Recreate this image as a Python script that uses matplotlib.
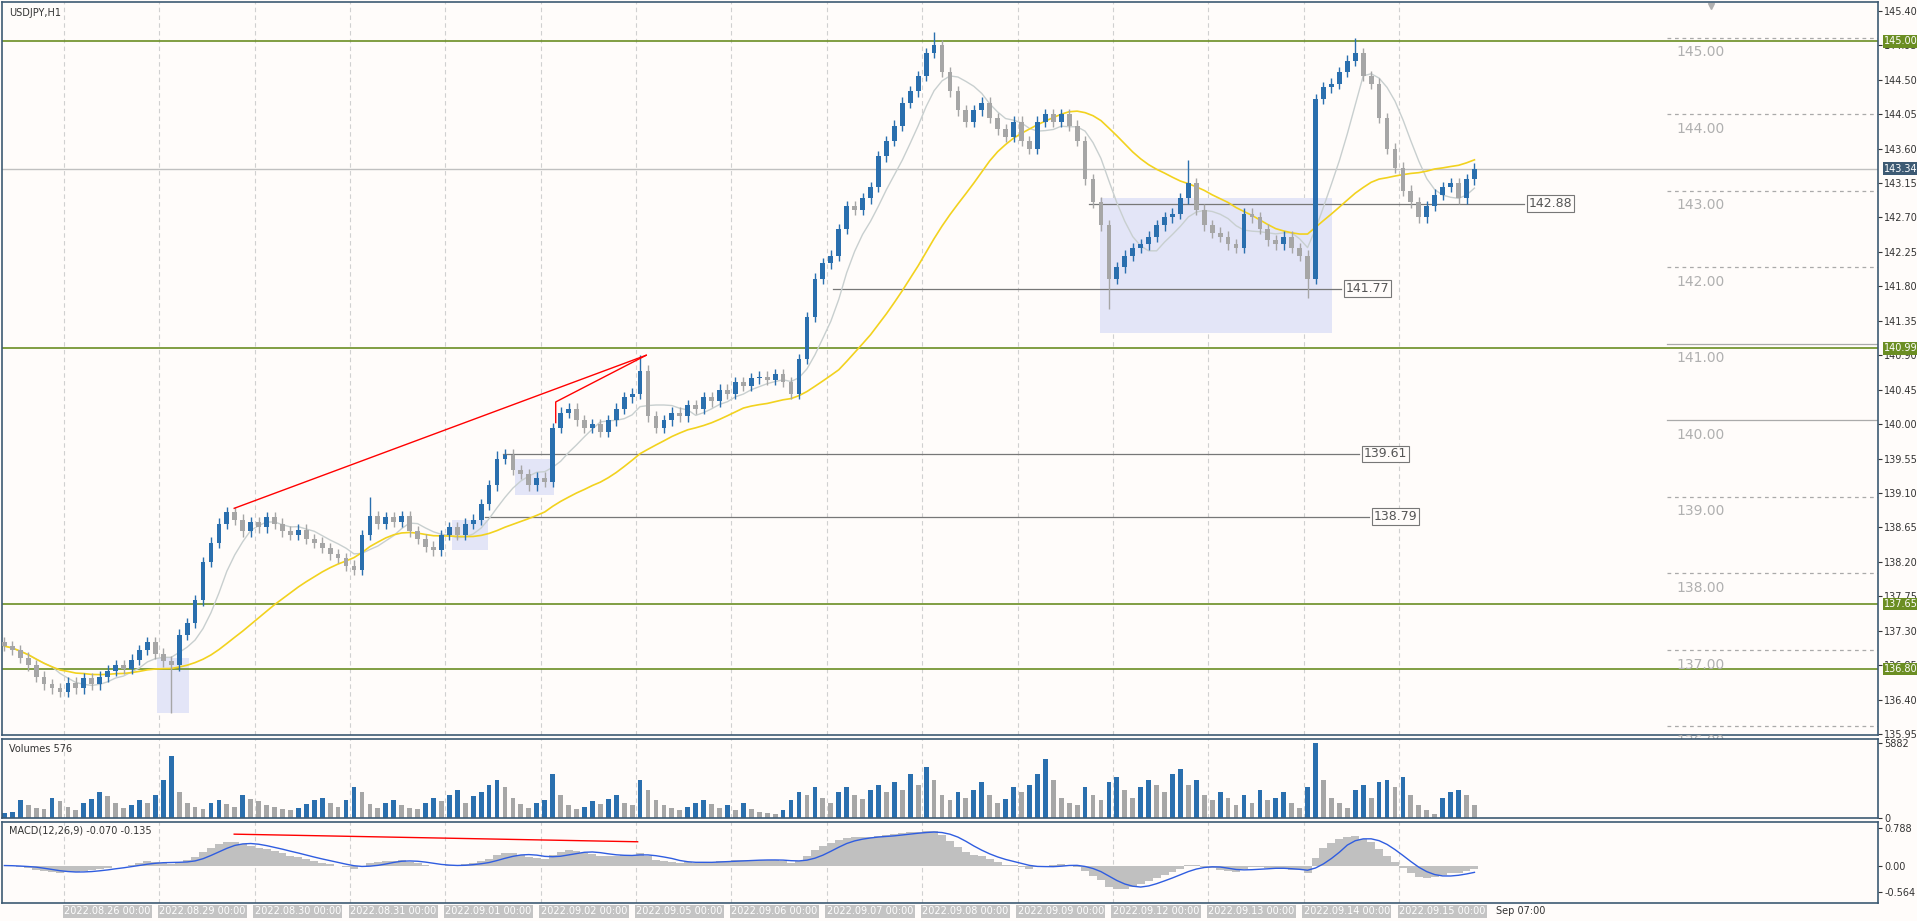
import numpy as np
import pandas as pd
import matplotlib
matplotlib.use("Agg")
import matplotlib.pyplot as plt
from matplotlib.patches import Rectangle
import matplotlib.transforms as mtransforms

# --- datos (barras de 2 horas, USDJPY) ---
closes = [
    137.10, 137.05, 136.95, 136.85, 136.70, 136.60, 136.55, 136.50,
    136.62, 136.55, 136.68, 136.60, 136.70, 136.78, 136.85, 136.80,
    136.92, 137.05, 137.15, 137.00, 136.90, 136.85, 137.25, 137.40,
    137.70, 138.20, 138.45, 138.70, 138.85, 138.75, 138.60, 138.72,
    138.65, 138.78, 138.70, 138.60, 138.55, 138.62, 138.50, 138.45,
    138.38, 138.30, 138.25, 138.15, 138.10, 138.55, 138.80, 138.70,
    138.78, 138.72, 138.80, 138.60, 138.50, 138.40, 138.35, 138.55,
    138.65, 138.55, 138.70, 138.75, 138.95, 139.20, 139.55, 139.60,
    139.40, 139.35, 139.20, 139.30, 139.25, 139.95, 140.15, 140.20,
    140.05, 139.95, 140.00, 139.90, 140.05, 140.20, 140.35, 140.40,
    140.70, 140.10, 139.95, 140.05, 140.15, 140.10, 140.25, 140.20,
    140.35, 140.30, 140.45, 140.40, 140.55, 140.50, 140.60, 140.62,
    140.58, 140.65, 140.55, 140.40, 140.85, 141.40, 141.90, 142.10,
    142.20, 142.55, 142.85, 142.80, 142.95, 143.10, 143.50, 143.70,
    143.90, 144.20, 144.35, 144.55, 144.85, 144.95, 144.60, 144.35,
    144.10, 143.95, 144.10, 144.20, 144.00, 143.85, 143.75, 143.95,
    143.70, 143.60, 143.95, 144.05, 143.95, 144.05, 143.90, 143.70,
    143.20, 142.90, 142.60, 141.90, 142.05, 142.20, 142.30, 142.35,
    142.45, 142.60, 142.70, 142.75, 142.95, 143.15, 142.80, 142.60,
    142.50, 142.45, 142.35, 142.30, 142.75, 142.70, 142.55, 142.40,
    142.35, 142.45, 142.30, 142.20, 141.90, 144.25, 144.40, 144.45,
    144.60, 144.75, 144.85, 144.55, 144.45, 144.00, 143.60, 143.35,
    143.05, 142.90, 142.70, 142.85, 143.00, 143.10, 143.15, 142.95,
    143.20, 143.34,
]
first_open = 137.15
# mechas destacadas: indice -> high / low
spikes_high = {46: 139.05, 62: 139.65, 80: 140.90, 117: 145.12, 149: 143.45, 170: 145.05}
spikes_low = {21: 136.23, 139: 141.50, 164: 141.65}

volumes_hundreds = [
    4, 5, 14, 10, 8, 7, 16, 13, 9, 6, 12, 15, 20, 17, 12, 8,
    10, 14, 12, 18, 30, 48, 20, 12,
    9, 7, 12, 14, 11, 9, 18, 15,
    13, 10, 9, 7, 6, 8, 11, 14,
    16, 12, 9, 14, 24, 20, 11, 8,
    12, 14, 10, 8, 7, 12, 16, 13,
    18, 22, 12, 17, 20, 26, 30, 24,
    16, 11, 8, 12, 14, 34, 18, 10,
    7, 9, 13, 11, 15, 18, 12, 10,
    30, 22, 14, 10, 8, 6, 9, 12,
    14, 11, 8, 10, 6, 12, 7, 5,
    4, 3, 6, 14, 20, 18, 24, 16,
    12, 20, 24, 18, 15, 22, 26, 20,
    28, 22, 34, 26, 40, 30, 18, 14,
    20, 16, 22, 28, 18, 12, 15, 24,
    20, 26, 34, 46, 30, 16, 12, 10,
    24, 18, 14, 28, 32, 22, 16, 24,
    30, 26, 20, 34, 38, 26, 30, 18,
    14, 20, 16, 10, 18, 12, 22, 14,
    16, 20, 12, 8, 24, 58, 30, 16,
    12, 8, 22, 26, 16, 28, 30, 24,
    32, 18, 10, 6, 3, 16, 20, 22,
    18, 10,
]

day_labels = ["2022.08.26 00:00", "2022.08.29 00:00", "2022.08.30 00:00", "2022.08.31 00:00",
              "2022.09.01 00:00", "2022.09.02 00:00", "2022.09.05 00:00", "2022.09.06 00:00",
              "2022.09.07 00:00", "2022.09.08 00:00", "2022.09.09 00:00", "2022.09.12 00:00",
              "2022.09.13 00:00", "2022.09.14 00:00", "2022.09.15 00:00"]
day_start_bar = 8  # 12 barras por dia

green_levels = [145.00, 140.99, 137.65, 136.80]
round_levels = [145.00, 144.00, 143.00, 142.00, 141.00, 140.00, 139.00, 138.00, 137.00, 136.00]
price_lines = [(889, 142.88, 1245), (680, 141.77, 1095), (410, 139.61, 1110), (395, 138.79, 1118)]
last_price = 143.34

# --- colores ---
BG = "#fffcfa"
UP = "#2a6fae"
DOWN = "#a6a6a6"
GREEN = "#6b8e23"
FRAME = "#3d5a73"
FS = 7

n = len(closes)
c = np.array(closes)
o = np.concatenate([[first_open], c[:-1]])
hi = np.maximum(o, c) + 0.07
lo = np.minimum(o, c) - 0.07
for k, v in spikes_high.items():
    hi[k] = v
for k, v in spikes_low.items():
    lo[k] = v
vol = np.array(volumes_hundreds) * 100.0
vol[165] = 5882

def px(x):  # pixel horizontal (referencia) -> indice de barra
    return (x - 2) / 6.5

W, H = 1565.0, 752.0
fig = plt.figure(figsize=(19.17, 9.21), dpi=100, facecolor=BG)
axw = 1532 / W
ax = fig.add_axes([0.001, 1 - 600 / H, axw, 598 / H], facecolor=BG)
axv = fig.add_axes([0.001, 1 - 668 / H, axw, 65 / H], facecolor=BG)
axm = fig.add_axes([0.001, 1 - 737 / H, axw, 66 / H], facecolor=BG)

xlim = (px(0), px(1535))
for a in (ax, axv, axm):
    a.set_xlim(*xlim)
    for s in a.spines.values():
        s.set_color(FRAME)
        s.set_linewidth(1.2)
    a.set_xticks([])
    a.yaxis.tick_right()
    a.tick_params(axis="y", labelsize=FS, colors="#333333", length=3, pad=1)
    for d in range(len(day_labels)):
        a.axvline(day_start_bar + 12 * d - 0.5, color="#d0d0d0", lw=0.8, ls=(0, (4, 3)), zorder=0)

# --- panel principal ---
ticks = np.round(np.arange(135.95, 145.5, 0.45), 2)
ax.set_ylim(135.94, 145.51)
ax.set_yticks(ticks)
ax.set_yticklabels([f"{t:.2f}" for t in ticks])
rtrans = mtransforms.blended_transform_factory(ax.transAxes, ax.transData)

# rectangulos
rects = [(127, 136.95, 153, 136.23), (368, 138.75, 398, 138.35), (420, 139.55, 452, 139.08),
         (898, 142.95, 1088, 141.19)]
for x0, y0, x1, y1 in rects:
    ax.add_patch(Rectangle((px(x0), y1), px(x1) - px(x0), y0 - y1,
                           facecolor="#e3e5f7", edgecolor="none", zorder=1))

for lvl in green_levels:
    ax.axhline(lvl, color=GREEN, lw=1.2, zorder=2)
    ax.text(1.003, lvl, f"{lvl:.2f}", transform=rtrans, fontsize=FS, color="white",
            va="center", ha="left", clip_on=False,
            bbox=dict(boxstyle="square,pad=0.15", facecolor=GREEN, edgecolor="none"))

ax.axhline(last_price, color="#c0c0c0", lw=1, zorder=2)
ax.text(1.003, last_price, f"{last_price:.2f}", transform=rtrans, fontsize=FS, color="white",
        va="center", ha="left", clip_on=False,
        bbox=dict(boxstyle="square,pad=0.15", facecolor=FRAME, edgecolor="none"))

for lvl in round_levels:
    ax.plot([px(1362), xlim[1]], [lvl + 0.05, lvl + 0.05], color="#aaaaaa", lw=0.9,
            ls=(0, (3, 3)) if lvl not in (140.0, 141.0) else "-", zorder=1)
    ax.text(px(1370), lvl - 0.05, f"{lvl:.2f}", fontsize=10, color="#b0b0b0", va="top", ha="left")

for x0, lvl, x1 in price_lines:
    ax.plot([px(x0), px(x1)], [lvl, lvl], color="#777777", lw=0.9, zorder=2)
    ax.text(px(x1 + 4), lvl, f"{lvl:.2f}", fontsize=9, color="#555555", va="center", ha="left",
            bbox=dict(boxstyle="square,pad=0.15", facecolor=BG, edgecolor="#777777", lw=0.8))

# medias moviles
sc = pd.Series(c)
idx = np.arange(n)
ax.plot(idx, sc.rolling(7, min_periods=1).mean(), color="#c8cfcf", lw=1, zorder=3)
ax.plot(idx, sc.rolling(25, min_periods=1).mean(), color="#f2d21e", lw=1.2, zorder=3)

# velas
up = c >= o
colors = np.where(up, UP, DOWN)
ax.vlines(idx, lo, hi, colors=colors, lw=1, zorder=4)
ax.bar(idx, np.maximum(np.abs(c - o), 0.01), bottom=np.minimum(o, c), width=0.6,
       color=colors, zorder=5)

# lineas rojas
ax.plot([px(190), px(527)], [138.9, 140.9], color="red", lw=1, zorder=6)
ax.plot([px(453), px(453), px(527)], [140.02, 140.29, 140.9], color="red", lw=1, zorder=6)

ax.text(0.004, 0.993, "USDJPY,H1", transform=ax.transAxes, fontsize=FS, color="#333333", va="top")
ax.plot([px(1398)], [145.47], marker="v", color="#b0b0b0", ms=5, clip_on=False)

# --- volumen ---
vcol = [UP] + [UP if vol[i] > vol[i - 1] else DOWN for i in range(1, n)]
axv.bar(idx, vol, width=0.6, color=vcol)
axv.set_ylim(0, 6200)
axv.set_yticks([0, 5882])
axv.set_yticklabels(["0", "5882"])
axv.text(0.004, 0.93, "Volumes 576", transform=axv.transAxes, fontsize=FS, color="#333333", va="top")

# --- MACD ---
ema_f = sc.ewm(span=6, adjust=False).mean()
ema_s = sc.ewm(span=13, adjust=False).mean()
macd = (ema_f - ema_s).values
signal = pd.Series(macd).rolling(5, min_periods=1).mean().values
axm.bar(idx, macd, width=1.0, color="#c0c0c0")
axm.plot(idx, signal, color="#2f5de0", lw=1)
axm.plot([px(190), px(520)], [0.66, 0.5], color="red", lw=1)
axm.set_ylim(-0.78, 0.92)
axm.set_yticks([-0.564, 0.0, 0.788])
axm.set_yticklabels(["-0.564", "0.00", "0.788"])
axm.text(0.004, 0.95, "MACD(12,26,9) -0.070 -0.135", transform=axm.transAxes, fontsize=FS,
         color="#333333", va="top")

# etiquetas de fecha
for d, lab in enumerate(day_labels):
    xb = day_start_bar + 12 * d - 0.5
    axm.text(xb, -0.86, lab, fontsize=FS, color="white", ha="left", va="top", clip_on=False,
             bbox=dict(boxstyle="square,pad=0.15", facecolor="#c4c4c4", edgecolor="none"))
axm.text(px(1212) + 1.5, -0.86, "Sep 07:00", fontsize=FS, color="#333333", ha="left", va="top",
         clip_on=False)

fig.savefig("out.png", dpi=100, facecolor=BG)
